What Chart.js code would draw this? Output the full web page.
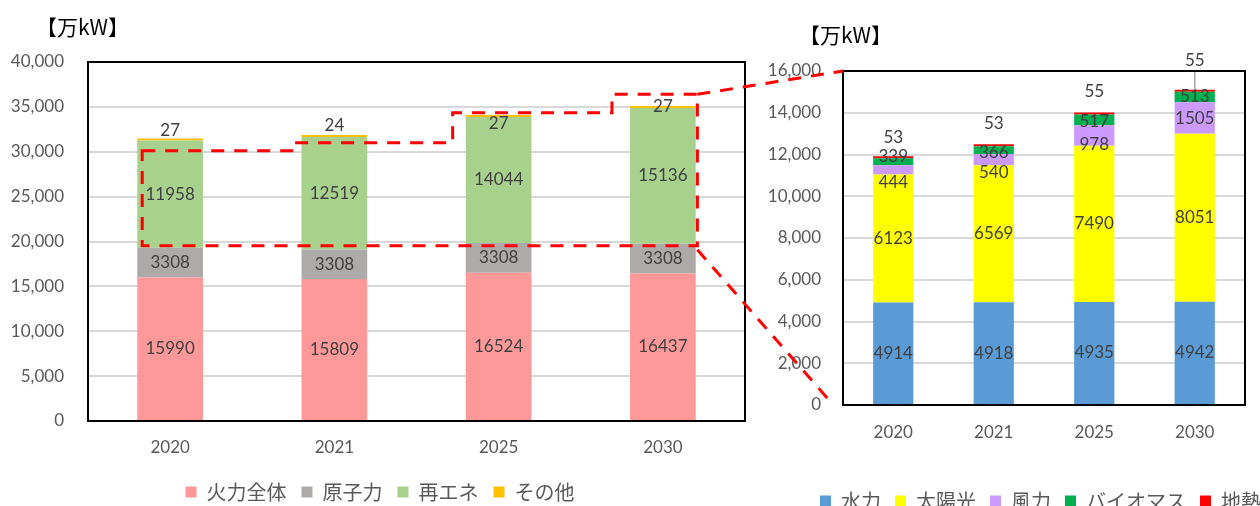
<!DOCTYPE html>
<html><head><meta charset="utf-8">
<script src="https://cdn.jsdelivr.net/npm/chart.js@4.4.1/dist/chart.umd.min.js"></script>
<style>
html,body{margin:0;padding:0;width:1260px;height:506px;overflow:hidden;background:#fff;}
#c1{position:absolute;left:0;top:0;}
#c2{position:absolute;left:760px;top:0;}
#overlay{position:absolute;left:0;top:0;pointer-events:none;}
</style></head><body>
<canvas id="c1" width="760" height="512"></canvas>
<canvas id="c2" width="561" height="521"></canvas>
<canvas id="overlay" width="1260" height="506"></canvas>
<script>
// ---------------- data ----------------
const unitLabel = '【万kW】';
const years = ['2020', '2021', '2025', '2030'];
// left chart (total)
const thermal = [15990, 15809, 16524, 16437];   // 火力全体
const nuclear = [3308, 3308, 3308, 3308];       // 原子力
const renewable = [11958, 12519, 14044, 15136]; // 再エネ
const otherSrc = [27, 24, 27, 27];              // その他
// right chart (renewable breakdown)
const hydro = [4914, 4918, 4935, 4942];         // 水力
const solar = [6123, 6569, 7490, 8051];         // 太陽光
const wind = [444, 540, 978, 1505];             // 風力
const biomass = [339, 366, 517, 513];           // バイオマス
const geothermal = [53, 53, 55, 55];            // 地熱
// tick labels
const leftTicks = [0, 5000, 10000, 15000, 20000, 25000, 30000, 35000, 40000];
const rightTicks = [0, 2000, 4000, 6000, 8000, 10000, 12000, 14000, 16000];
// zoom-box annotation on the left chart (category units, values)
const boxCat = [-0.17, 0.77, 0.77, 1.72, 1.72, 2.69, 2.69, 3.21, 3.21, -0.17];
const boxVal = [30100, 30100, 31000, 31000, 34350, 34350, 36400, 36400, 19530, 19530];

// ---------------- styles ----------------
const LATIN = "Lato, 'Noto Sans CJK JP', sans-serif";
const CJK = "'Noto Sans CJK JP', sans-serif";
Chart.defaults.font.family = LATIN;
Chart.defaults.font.size = 17;
Chart.defaults.color = '#595959';

const segLabels = {
  id: 'segLabels',
  afterDatasetsDraw(chart, args, opts) {
    const ctx = chart.ctx;
    ctx.save();
    ctx.font = opts.font;
    ctx.textAlign = 'center';
    ctx.textBaseline = 'middle';
    (opts.items || []).forEach(it => {
      const meta = chart.getDatasetMeta(it.dataset);
      const data = chart.data.datasets[it.dataset].data;
      meta.data.forEach((el, i) => {
        const p = el.getProps(['x', 'y', 'base'], true);
        let y = it.mode === 'top' ? p.y : (p.y + p.base) / 2;
        y += it.offsets ? it.offsets[i] : 0;
        if (it.leader && it.leader[i]) {
          ctx.strokeStyle = '#A6A6A6';
          ctx.lineWidth = 1.5;
          ctx.beginPath();
          ctx.moveTo(p.x, y + 10);
          ctx.lineTo(p.x, p.y);
          ctx.stroke();
        }
        ctx.fillStyle = opts.color;
        ctx.fillText(String(data[i]), p.x, y);
      });
    });
    ctx.restore();
  }
};

const frame = {
  id: 'frame',
  afterDraw(chart) {
    const a = chart.chartArea, ctx = chart.ctx;
    ctx.save();
    ctx.strokeStyle = '#000';
    ctx.lineWidth = 2;
    ctx.strokeRect(a.left, a.top, a.right - a.left, a.bottom - a.top);
    ctx.restore();
  }
};

const unitTitle = {
  id: 'unitTitle',
  afterDraw(chart, args, opts) {
    const ctx = chart.ctx;
    ctx.save();
    ctx.font = '21px ' + CJK;
    ctx.fillStyle = '#000';
    ctx.textAlign = 'left';
    ctx.textBaseline = 'middle';
    ctx.fillText(opts.text, opts.x, opts.y);
    ctx.restore();
  }
};

function bar(label, data, color, extra) {
  return Object.assign({ label, data, backgroundColor: color, borderWidth: 0,
    categoryPercentage: 1, barPercentage: 0.4 }, extra || {});
}

function makeScales(ticksArr, maxV, yWidth, yPad, xHeight, xPad, rightW) {
  return {
    x: { stacked: true, grid: { display: false, drawTicks: false, tickLength: 0 },
      border: { display: false },
      ticks: { padding: xPad, color: '#595959', font: { size: 17 } },
      afterFit(s) { s.height = xHeight; } },
    y: { stacked: true, min: 0, max: maxV,
      afterBuildTicks(s) { s.ticks = ticksArr.map(v => ({ value: v })); },
      ticks: { padding: yPad, color: '#595959', font: { size: 17 },
        callback: v => Number(v).toLocaleString('en-US') },
      grid: { color: '#D9D9D9', lineWidth: 2, drawTicks: false, tickLength: 0 },
      border: { display: false },
      afterFit(s) { s.width = yWidth; } },
    pad: { type: 'linear', axis: 'y', position: 'right', display: true,
      ticks: { display: false }, grid: { display: false }, border: { display: false },
      afterFit(s) { s.width = rightW; } }
  };
}

const c1 = new Chart(document.getElementById('c1'), {
  type: 'bar',
  data: {
    labels: years,
    datasets: [
      bar('火力全体', thermal, '#FF9999'),
      bar('原子力', nuclear, '#AEAAAA'),
      bar('再エネ', renewable, '#A9D18E'),
      bar('その他', otherSrc, '#FFC000', { minBarLength: 2 })
    ]
  },
  options: {
    responsive: false, animation: false, devicePixelRatio: 1,
    layout: { padding: { top: 62, left: 0, right: 0, bottom: 0 } },
    scales: makeScales(leftTicks, 40000, 88, 24, 46, 16, 15),
    plugins: {
      tooltip: { enabled: false },
      legend: { position: 'bottom',
        labels: { boxWidth: 11, boxHeight: 11, padding: 15, color: '#595959',
          font: { family: CJK, size: 20 } } },
      segLabels: { font: '17px ' + LATIN, color: '#404040', items: [
        { dataset: 0, mode: 'center' },
        { dataset: 1, mode: 'center' },
        { dataset: 2, mode: 'center' },
        { dataset: 3, mode: 'top', offsets: [-8, -10, 9, 1] }
      ] },
      unitTitle: { text: unitLabel, x: 36, y: 27 }
    }
  },
  plugins: [segLabels, frame, unitTitle]
});

const c2 = new Chart(document.getElementById('c2'), {
  type: 'bar',
  data: {
    labels: years,
    datasets: [
      bar('水力', hydro, '#5B9BD5'),
      bar('太陽光', solar, '#FFFF00'),
      bar('風力', wind, '#CC99FF'),
      bar('バイオマス', biomass, '#00B050'),
      bar('地熱', geothermal, '#FF0000', { minBarLength: 2 })
    ]
  },
  options: {
    responsive: false, animation: false, devicePixelRatio: 1,
    layout: { padding: { top: 71, left: 0, right: 0, bottom: 0 } },
    scales: makeScales(rightTicks, 16000, 83, 22, 72, 17, 76),
    plugins: {
      tooltip: { enabled: false },
      legend: { position: 'bottom',
        labels: { boxWidth: 11, boxHeight: 11, padding: 14, color: '#595959',
          font: { family: CJK, size: 20 } } },
      segLabels: { font: '17px ' + LATIN, color: '#404040', items: [
        { dataset: 0, mode: 'center' },
        { dataset: 1, mode: 'center' },
        { dataset: 2, mode: 'center', offsets: [13, 13, 9, 0] },
        { dataset: 3, mode: 'center', offsets: [-5, 2, 2, 0] },
        { dataset: 4, mode: 'top', offsets: [-19, -21, -21, -29], leader: [false, false, false, true] }
      ] },
      unitTitle: { text: unitLabel, x: 39, y: 35 }
    }
  },
  plugins: [segLabels, frame, unitTitle]
});

function drawOverlay() {
  const oc = document.getElementById('overlay');
  const ctx = oc.getContext('2d');
  ctx.clearRect(0, 0, oc.width, oc.height);
  const r1 = document.getElementById('c1').getBoundingClientRect();
  const r2 = document.getElementById('c2').getBoundingClientRect();
  const xs = c1.scales.x, ys = c1.scales.y;
  const step = xs.getPixelForValue(1) - xs.getPixelForValue(0);
  const px = f => r1.left + xs.getPixelForValue(0) + f * step;
  const py = v => r1.top + ys.getPixelForValue(v);
  ctx.strokeStyle = '#FF0000';
  ctx.lineWidth = 3;
  ctx.setLineDash([13, 10]);
  ctx.beginPath();
  boxCat.forEach((c, i) => {
    if (i === 0) ctx.moveTo(px(c), py(boxVal[i])); else ctx.lineTo(px(c), py(boxVal[i]));
  });
  ctx.closePath();
  ctx.stroke();
  const a2 = c2.chartArea;
  ctx.beginPath();
  ctx.moveTo(px(3.21), py(36400));
  ctx.lineTo(r2.left + a2.left, r2.top + a2.top);
  ctx.stroke();
  ctx.beginPath();
  ctx.moveTo(px(3.21), py(19530) + 4);
  ctx.lineTo(r2.left + a2.left - 14, r2.top + a2.bottom - 5);
  ctx.stroke();
}
drawOverlay();
</script>
</body></html>
